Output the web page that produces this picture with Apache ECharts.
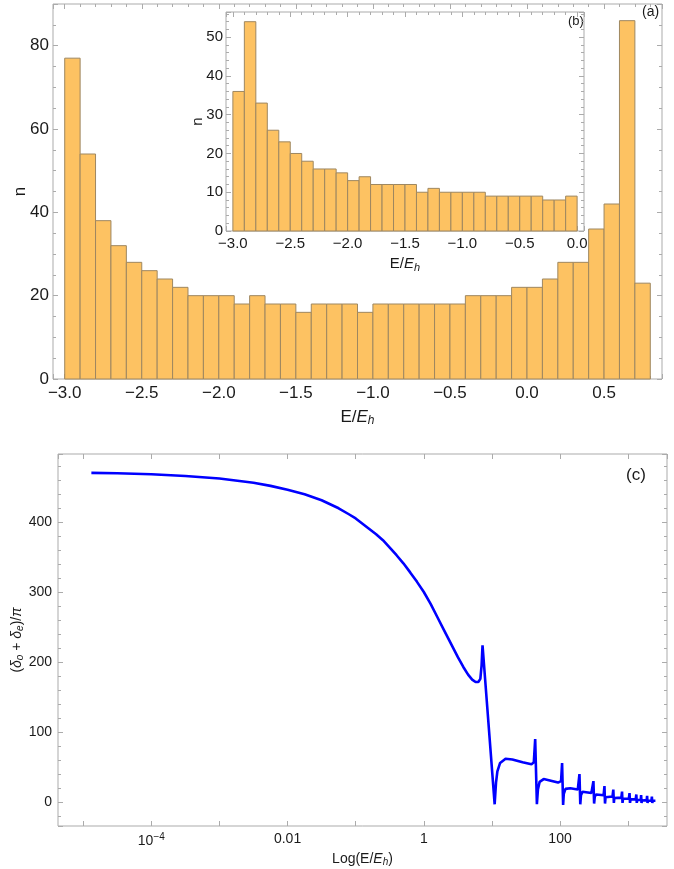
<!DOCTYPE html>
<html><head><meta charset="utf-8">
<script src="https://cdn.jsdelivr.net/npm/echarts@6/dist/echarts.min.js"></script>
<style>html,body{margin:0;padding:0;background:#fff}#c{width:674px;height:869px}</style>
</head><body><div id="c"></div>
<script>
// ---------- Panel (a): histogram ----------
const edgesA = [-3.0,-2.9,-2.8,-2.7,-2.6,-2.5,-2.4,-2.3,-2.2,-2.1,-2.0,-1.9,-1.8,-1.7,-1.6,-1.5,-1.4,-1.3,-1.2,-1.1,-1.0,-0.9,-0.8,-0.7,-0.6,-0.5,-0.4,-0.3,-0.2,-0.1,0.0,0.1,0.2,0.3,0.4,0.5,0.6,0.7,0.8];
const countsA = [77,54,38,32,28,26,24,22,20,20,20,18,20,18,18,16,18,18,18,16,18,18,18,18,18,18,20,20,20,22,22,24,28,28,36,42,86,23];
const ticksAx = ['−3.0','−2.5','−2.0','−1.5','−1.0','−0.5','0.0','0.5'];

// ---------- Panel (b): inset histogram ----------
const edgesB = [-3.0,-2.9,-2.8,-2.7,-2.6,-2.5,-2.4,-2.3,-2.2,-2.1,-2.0,-1.9,-1.8,-1.7,-1.6,-1.5,-1.4,-1.3,-1.2,-1.1,-1.0,-0.9,-0.8,-0.7,-0.6,-0.5,-0.4,-0.3,-0.2,-0.1,0.0];
const countsB = [36,54,33,26,23,20,18,16,16,15,13,14,12,12,12,12,10,11,10,10,10,10,9,9,9,9,9,8,8,9];

// ---------- Panel (c): phase curve (log10 of E/E_h, value) ----------
const logE = [-4.88,-4.5,-4.0,-3.5,-3.0,-2.5,-2.25,-2.0,-1.75,-1.5,-1.25,-1.1,-1.0,-0.9,-0.8,-0.7,-0.6,-0.5,-0.4,-0.3,-0.2,-0.1,0.0,0.1,0.2,0.3,0.4,0.5,0.58,0.65,0.71,0.76,0.8,0.83,0.848,0.862,
  1.04,1.06,1.08,1.12,1.2,1.3,1.45,1.58,1.615,1.635,1.66,1.675,1.70,1.76,1.85,1.97,2.015,2.03,2.045,2.055,2.08,2.15,2.26,2.275,2.285,2.297,2.307,2.33,2.46,2.482,2.49,2.50,2.51,2.53,2.64,2.645,2.652,2.66,2.668,2.69,2.77,2.776,2.782,2.79,2.797,2.82,2.9,2.905,2.91,2.917,2.925,2.94,3.01,3.016,3.02,3.027,3.035,3.05,3.11,3.116,3.12,3.126,3.133,3.145,3.185,3.19,3.196,3.203,3.215,3.272,3.278,3.284,3.291,3.30,3.342,3.348,3.354,3.36,3.37,3.40];
const phase = [470,469.5,468,465.5,462,456,451.5,446,439.5,431,419.5,411,405,397.5,390,382.5,374,363.5,352.5,341,328,314.5,300,283,264,245,226,207,193,182,175,171.5,171.5,176,195,224,
  -3,28,44,56,62,61,57,54,57,90,-3,18,29,33,31,28,30,56,-4,12,19,20,18,20,40,-3,10,15,13,15,30,-2,8,11,10,12,23,-2,7,9,8,9,18,-1,6,7,6.5,8,15,-1,5,6,5,6,13,-1,4,5,4,5,11,-1,3,4,3.5,10,-1,2.5,3.5,3,9,-1,2,3,2.5,8,-1,2,2.5,2];

const FONT = "'Liberation Sans', Arial, sans-serif";
const FRAME = '#ababab';
const TXT = '#1a1a1a';

function histData(edges, counts){
  return counts.map((c,i)=>[edges[i], edges[i+1], c]);
}
function histRender(params, api){
  const p0 = api.coord([api.value(0), 0]);
  const p1 = api.coord([api.value(1), api.value(2)]);
  return {type:'rect', shape:{x:p0[0], y:p1[1], width:p1[0]-p0[0], height:p0[1]-p1[1]},
    style:{fill:'#fdc262', stroke:'#9e8760', lineWidth:1}};
}
function frameAxis(base, extra){
  return Object.assign({
    axisLine:{show:false, onZero:false},
    axisTick:{show:true, inside:true, length:5, lineStyle:{color:FRAME}},
    minorTick:{show:true, splitNumber:5, length:3, lineStyle:{color:FRAME}},
    splitLine:{show:false},
    axisLabel:{show:false},
    nameMoveOverlap:false
  }, base, extra);
}
const richE = (fs)=>({i:{fontStyle:'italic', fontSize:fs, fontFamily:FONT, color:TXT},
  sub:{fontStyle:'italic', fontSize:Math.round(fs*0.7), fontFamily:FONT, color:TXT, padding:[Math.round(fs*0.45),0,0,0]}});

const chart = echarts.init(document.getElementById('c'), null, {renderer:'canvas'});
const option = {
  animation:false,
  backgroundColor:'#fff',
  grid:[
    {left:53, top:4, width:609, height:375, show:true, borderColor:FRAME, borderWidth:1, backgroundColor:'#fff'},
    {left:226, top:12, width:358, height:219, show:true, borderColor:FRAME, borderWidth:1, backgroundColor:'#fff'},
    {left:58, top:454, width:609, height:372, show:true, borderColor:FRAME, borderWidth:1, backgroundColor:'#fff'}
  ],
  xAxis:[
    frameAxis({type:'value', gridIndex:0, position:'bottom', min:-3.076, max:0.876, splitNumber:8}, {
      axisLabel:{show:true, margin:6, fontSize:17, fontFamily:FONT, color:TXT, showMinLabel:false, showMaxLabel:false,
        formatter:v=>ticksAx[Math.round((v+3)*2)] || ''},
      name:'E/{i|E}{sub|h}', nameLocation:'middle', nameGap:28,
      nameTextStyle:{fontSize:17, fontFamily:FONT, color:TXT, rich:richE(17)}
    }),
    frameAxis({type:'value', gridIndex:0, position:'top', min:-3.076, max:0.876, splitNumber:8}),
    frameAxis({type:'value', gridIndex:1, position:'bottom', min:-3.06, max:0.06, splitNumber:6}, {
      axisLabel:{show:true, margin:5, fontSize:15, fontFamily:FONT, color:TXT, showMinLabel:false, showMaxLabel:false,
        formatter:v=>ticksAx[Math.round((v+3)*2)] || ''},
      name:'E/{i|E}{sub|h}', nameLocation:'middle', nameGap:24,
      nameTextStyle:{fontSize:15, fontFamily:FONT, color:TXT, rich:richE(15)}
    }),
    frameAxis({type:'value', gridIndex:1, position:'top', min:-3.06, max:0.06, splitNumber:6}),
    frameAxis({type:'log', logBase:10, gridIndex:2, position:'bottom', min:Math.pow(10,-5.37), max:Math.pow(10,3.57)}, {
      minorTick:{show:false},
      axisLabel:{show:true, margin:6, fontSize:14, fontFamily:FONT, color:TXT, showMinLabel:false, showMaxLabel:false,
        formatter:v=>{const e=Math.round(Math.log10(v)); if(e===-4) return '10{sup|−4}'; if(e===-2) return '0.01'; if(e===0) return '1'; if(e===2) return '100'; return '';},
        rich:{sup:{fontSize:10, fontFamily:FONT, color:TXT, padding:[0,0,8,0]}}},
      name:'Log(E/{i|E}{sub|h})', nameLocation:'middle', nameGap:25,
      nameTextStyle:{fontSize:14, fontFamily:FONT, color:TXT, rich:richE(14)}
    }),
    frameAxis({type:'log', logBase:10, gridIndex:2, position:'top', min:Math.pow(10,-5.37), max:Math.pow(10,3.57)}, {minorTick:{show:false}})
  ],
  yAxis:[
    frameAxis({type:'value', gridIndex:0, position:'left', min:0, max:90, splitNumber:5}, {
      minorTick:{show:true, splitNumber:4, length:3, lineStyle:{color:FRAME}},
      axisLabel:{show:true, margin:4, fontSize:17, fontFamily:FONT, color:TXT, showMaxLabel:false},
      name:'n', nameLocation:'middle', nameGap:24, nameTextStyle:{fontSize:17, fontFamily:FONT, color:TXT}
    }),
    frameAxis({type:'value', gridIndex:0, position:'right', min:0, max:90, splitNumber:5}, {
      minorTick:{show:true, splitNumber:4, length:3, lineStyle:{color:FRAME}}}),
    frameAxis({type:'value', gridIndex:1, position:'left', min:0, max:56.5, splitNumber:5}, {
      axisLabel:{show:true, margin:3, fontSize:15, fontFamily:FONT, color:TXT, showMaxLabel:false},
      name:'n', nameLocation:'middle', nameGap:21, nameTextStyle:{fontSize:15, fontFamily:FONT, color:TXT}
    }),
    frameAxis({type:'value', gridIndex:1, position:'right', min:0, max:56.5, splitNumber:5}),
    frameAxis({type:'value', gridIndex:2, position:'left', min:-34, max:497, splitNumber:5}, {
      axisLabel:{show:true, margin:6, fontSize:14, fontFamily:FONT, color:TXT, showMinLabel:false, showMaxLabel:false},
      name:'({i|δ}{sub|o} + {i|δ}{sub|e})/{i|π}', nameLocation:'middle', nameGap:33,
      nameTextStyle:{fontSize:14, fontFamily:FONT, color:TXT, rich:richE(14)}
    }),
    frameAxis({type:'value', gridIndex:2, position:'right', min:-34, max:497, splitNumber:5})
  ],
  series:[
    {type:'custom', xAxisIndex:0, yAxisIndex:0, renderItem:histRender, data:histData(edgesA, countsA), z:2},
    {type:'custom', xAxisIndex:2, yAxisIndex:2, renderItem:histRender, data:histData(edgesB, countsB), z:3},
    {type:'line', xAxisIndex:4, yAxisIndex:4, showSymbol:false, symbol:'none',
      lineStyle:{color:'#0000ff', width:2.6}, data:logE.map((l,i)=>[Math.pow(10,l), phase[i]])}
  ],
  graphic:[
    {type:'text', left:642, top:5, style:{text:'(a)', fontSize:14, fontFamily:FONT, fill:TXT}},
    {type:'text', left:568, top:15, style:{text:'(b)', fontSize:13, fontFamily:FONT, fill:TXT}},
    {type:'text', left:626, top:467, style:{text:'(c)', fontSize:17, fontFamily:FONT, fill:TXT}}
  ]
};
chart.setOption(option);
</script>
</body></html>
